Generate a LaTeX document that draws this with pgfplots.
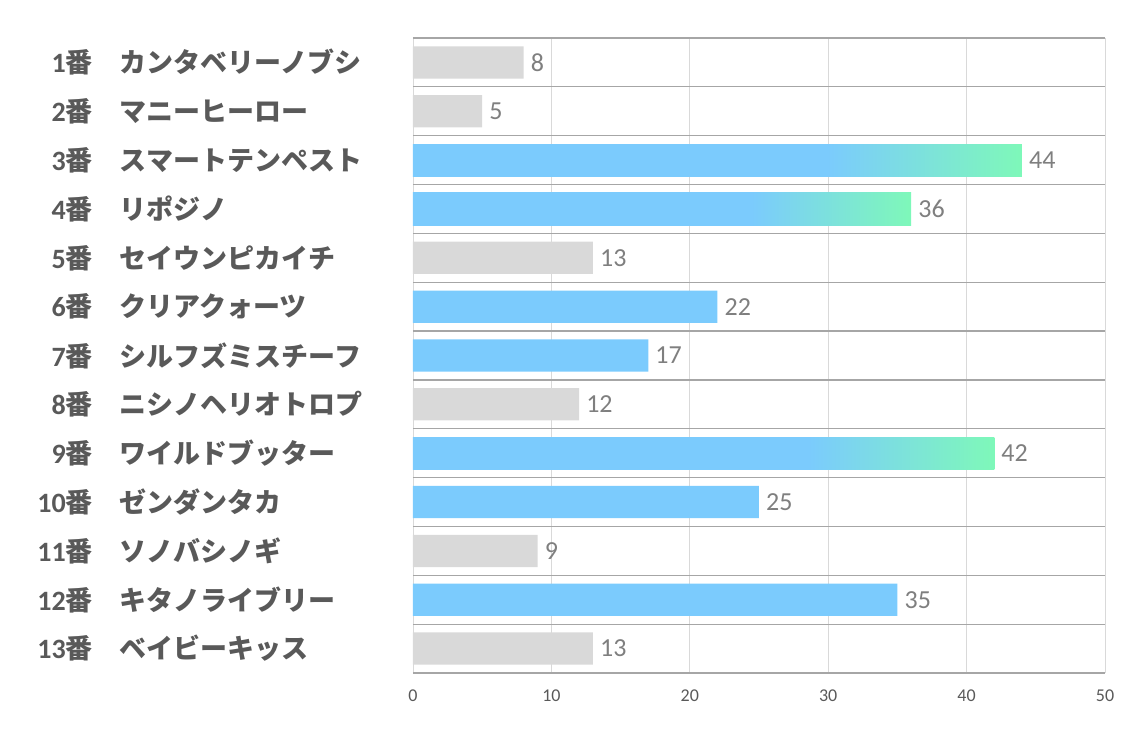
\documentclass[border=0pt]{standalone}
\usepackage{pgfplots}
\pgfplotsset{compat=1.18}
\usepackage{fontspec}
\usepackage{graphicx}
\setmainfont{Carlito}
\newfontfamily\jp{Noto Sans CJK JP}
\definecolor{barblue}{HTML}{7BCBFD}
\definecolor{bargreen}{HTML}{7EF8B9}
\definecolor{bargray}{HTML}{D9D9D9}
\definecolor{sepgray}{HTML}{A6A6A6}
\definecolor{gridgray}{HTML}{D9D9D9}
\definecolor{lblgray}{HTML}{595959}
\definecolor{valgray}{HTML}{7F7F7F}
\pgfdeclarehorizontalshading{bargrad}{100bp}{color(0bp)=(barblue); color(25bp)=(barblue); color(59bp)=(barblue); color(75bp)=(bargreen); color(100bp)=(bargreen)}
\newcommand{\lab}[2]{\makebox[75pt][r]{{\rmfamily\bfseries\fontsize{28}{30}\selectfont #1}番}\hspace{27pt}\makebox[250pt][l]{#2}}
\begin{document}
\begin{tikzpicture}
\useasboundingbox (-413pt,-64pt) rectangle (721pt,673pt);
\begin{axis}[
  at={(0,0)}, anchor=south west,
  scale only axis, width=692pt, height=635pt,
  xmin=0, xmax=50, ymin=-0.5, ymax=12.5, y dir=reverse,
  xtick={0,10,20,30,40,50}, ytick={0,1,2,3,4,5,6,7,8,9,10,11,12},
  minor ytick={-0.5,0.5,1.5,2.5,3.5,4.5,5.5,6.5,7.5,8.5,9.5,10.5,11.5,12.5},
  xmajorgrids, yminorgrids,
  major grid style={draw=gridgray, line width=0.9pt},
  minor grid style={draw=sepgray, line width=1.2pt},
  axis line style={draw=none},
  major tick length=0pt, minor tick length=0pt,
  /pgf/number format/assume math mode=true,
  xticklabel style={font=\fontsize{18}{20}\selectfont, text=lblgray, inner sep=0pt, yshift=-17pt},
  yticklabel style={anchor=east, inner sep=0pt, xshift=-43pt, font=\jp\bfseries\fontsize{27}{30}\selectfont, text=lblgray},
  yticklabels={{\lab{1}{カンタベリーノブシ}},{\lab{2}{マニーヒーロー}},{\lab{3}{スマートテンペスト}},{\lab{4}{リポジノ}},{\lab{5}{セイウンピカイチ}},{\lab{6}{クリアクォーツ}},{\lab{7}{シルフズミスチーフ}},{\lab{8}{ニシノヘリオトロプ}},{\lab{9}{ワイルドブッター}},{\lab{10}{ゼンダンタカ}},{\lab{11}{ソノバシノギ}},{\lab{12}{キタノライブリー}},{\lab{13}{ベイビーキッス}}},
  bar width=0.66,
  point meta=x,
  nodes near coords,
  nodes near coords style={font=\fontsize{26}{28}\selectfont, text=valgray, anchor=west, inner sep=0pt, xshift=7pt},
]
\addplot[xbar, bar shift=0pt, fill=bargray, draw=none, point meta=x] coordinates {(8,0) (5,1) (13,4) (12,7) (9,10) (13,12)};
\addplot[xbar, bar shift=0pt, fill=barblue, draw=none, point meta=x] coordinates {(22,5) (17,6) (25,9) (35,11)};
\addplot[xbar, bar shift=0pt, draw=none, shade, shading=bargrad, point meta=x] coordinates {(44,2)};
\addplot[xbar, bar shift=0pt, draw=none, shade, shading=bargrad, point meta=x] coordinates {(36,3)};
\addplot[xbar, bar shift=0pt, draw=none, shade, shading=bargrad, point meta=x] coordinates {(42,8)};
\end{axis}
\end{tikzpicture}
\end{document}
